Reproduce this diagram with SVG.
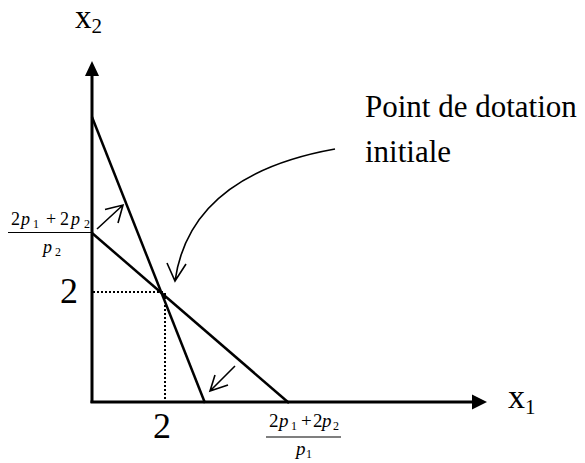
<svg xmlns="http://www.w3.org/2000/svg" width="585" height="463" viewBox="0 0 585 463">
<style>
text{font-family:"Liberation Serif","DejaVu Serif",serif;fill:#000}
.ax{stroke:#000;stroke-width:3;fill:none}
.ln{stroke:#000;stroke-width:2.5;fill:none}
.ar{stroke:#000;stroke-width:1.6;fill:none}
.dt{stroke:#000;stroke-width:2;stroke-dasharray:2 2;fill:none}
.it{font-style:italic}
</style>
<rect width="585" height="463" fill="#fff"/>
<g id="axes">
<line class="ax" x1="92" y1="403" x2="92" y2="74"/>
<polygon points="92,61 85,76 99,76" fill="#000"/>
<line class="ax" x1="90.5" y1="402" x2="474" y2="402"/>
<polygon points="487,402 472,394.5 472,409.5" fill="#000"/>
</g>
<g id="connectors">
<line class="ln" x1="92" y1="117" x2="205" y2="403"/>
<line class="ln" x1="92" y1="233" x2="289" y2="403"/>
<line class="dt" x1="93" y1="292" x2="163" y2="292"/>
<line class="dt" x1="165" y1="293" x2="165" y2="401"/>
<path class="ar" d="M97,229 L123,205 M105,209.5 L123,205 L118,223"/>
<path class="ar" d="M235,366 L210,391 M228,385 L210,391 L215,375"/>
<path class="ar" d="M335,149 Q190,175 175,281 M167,263 L175,281 L186,264"/>
</g>
<g id="labels">
<text x="75" y="28" font-size="33" font-family="Liberation Serif, serif">x<tspan font-size="21" dy="5">2</tspan></text>
<text x="508" y="408" font-size="34" font-family="Liberation Serif, serif">x<tspan font-size="21" dy="6">1</tspan></text>
<text x="365" y="117" font-size="31" font-family="Liberation Serif, serif">Point de dotation</text>
<text x="365" y="162" font-size="31" font-family="Liberation Serif, serif">initiale</text>
<text x="60" y="303" font-size="36" font-family="Liberation Serif, serif">2</text>
<text x="153" y="438" font-size="36" font-family="Liberation Serif, serif">2</text>
</g>
<g id="frac-left">
<text font-size="18" y="225" font-family="Liberation Serif, serif"><tspan x="11">2</tspan><tspan x="21" class="it">p</tspan><tspan x="33" font-size="12" dy="3">1</tspan><tspan x="46" dy="-3">+</tspan><tspan x="60">2</tspan><tspan x="71" class="it">p</tspan><tspan x="84" font-size="12" dy="3">2</tspan></text>
<line x1="8" y1="232.5" x2="92" y2="232.5" stroke="#000" stroke-width="1.2"/>
<text font-size="18" y="253" font-family="Liberation Serif, serif"><tspan x="43" class="it">p</tspan><tspan x="55" font-size="12" dy="3">2</tspan></text>
</g>
<g id="frac-bottom">
<text font-size="19" y="427" font-family="Liberation Serif, serif"><tspan x="269">2</tspan><tspan x="279" class="it">p</tspan><tspan x="291" font-size="12" dy="3">1</tspan><tspan x="301" dy="-3">+</tspan><tspan x="313">2</tspan><tspan x="322" class="it">p</tspan><tspan x="333" font-size="12" dy="3">2</tspan></text>
<line x1="266" y1="437" x2="341" y2="437" stroke="#000" stroke-width="1.2"/>
<text font-size="19" y="455" font-family="Liberation Serif, serif"><tspan x="296" class="it">p</tspan><tspan x="306" font-size="12" dy="3">1</tspan></text>
</g>
</svg>
